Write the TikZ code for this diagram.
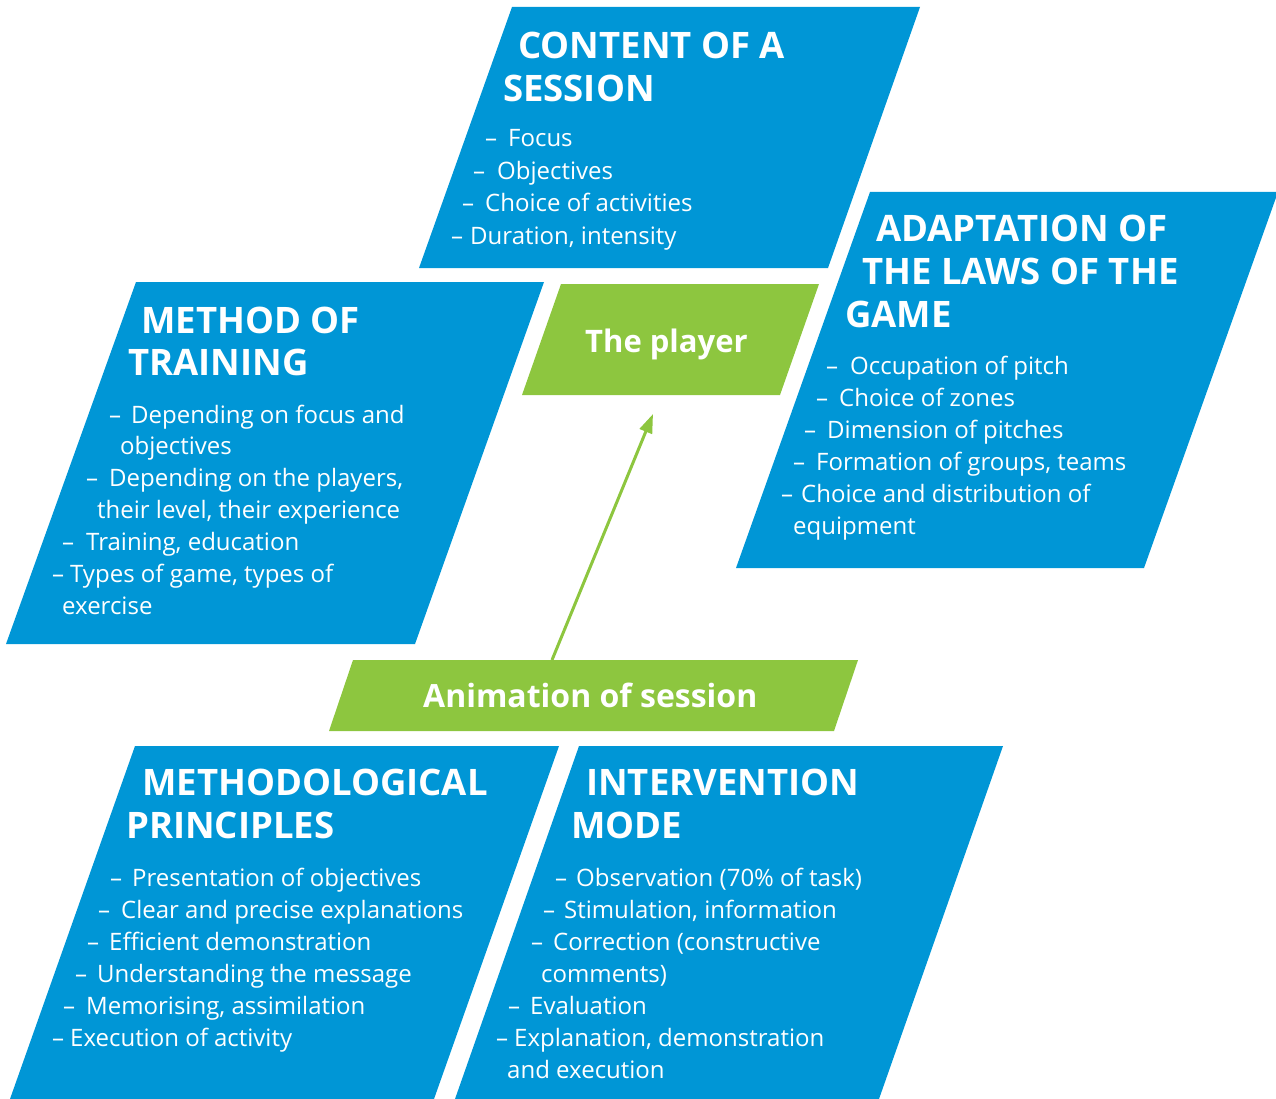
\documentclass[tikz,border=0pt]{standalone}
\usepackage{fontspec}
\setmainfont{Open Sans}
\usetikzlibrary{arrows.meta}
\definecolor{fblue}{RGB}{0,150,214}
\definecolor{fgreen}{RGB}{141,198,63}
\newcommand\dashitem[2]{\makebox[#1pt][l]{–}#2}
\begin{document}
\begin{tikzpicture}[x=1pt,y=-1pt,
  boxtitle/.style={anchor=base west, inner sep=0pt, text=white, font=\bfseries\fontsize{36.5}{36.5}\selectfont},
  item/.style={anchor=base west, inner sep=0pt, text=white, font=\fontsize{24}{24}\selectfont},
  gtitle/.style={anchor=base west, inner sep=0pt, text=white, font=\bfseries\fontsize{31}{31}\selectfont},
  bluebox/.style={fill=fblue},
  greenbox/.style={fill=fgreen},
  link/.style={draw=fgreen, line width=3pt, -{Triangle[length=19pt,width=13pt]}}
]
\useasboundingbox (0,0) rectangle (1276,1099);
\begin{scope}
\clip (0,0) rectangle (1276,1099);
% blue parallelograms
\fill[bluebox] (512,7) -- (920,7) -- (828,268) -- (419,268) -- cycle;
\fill[bluebox] (136,282) -- (544,282) -- (415,644) -- (6,644) -- cycle;
\fill[bluebox] (870,192) -- (1278,192) -- (1144,568) -- (736,568) -- cycle;
\fill[bluebox] (135,746) -- (559,746) -- (434,1099) -- (10,1099) -- cycle;
\fill[bluebox] (579,746) -- (1003,746) -- (879,1099) -- (455,1099) -- cycle;
% green parallelograms
\fill[greenbox] (561,284) -- (819,284) -- (780,395) -- (522,395) -- cycle;
\fill[greenbox] (353,660) -- (858,660) -- (834,731) -- (329,731) -- cycle;
\end{scope}

% connector
\coordinate (arrowfrom) at (552,660);
\coordinate (arrowto) at (653,414);
\draw[link] (arrowfrom) -- (arrowto);

% green labels
\node[gtitle] (player) at (585,352) {The player};
\node[gtitle, font=\bfseries\fontsize{32}{32}\selectfont] (anim) at (423,707) {Animation of session};

% content of a session
\node[boxtitle] (ct1) at (518,59) {CONTENT OF A};
\node[boxtitle] (ct2) at (503,102) {SESSION};
\node[item] (ci1) at (485,147) {\dashitem{23}{Focus}};
\node[item] (ci2) at (473,180) {\dashitem{24}{Objectives}};
\node[item] (ci3) at (462,212) {\dashitem{23}{Choice of activities}};
\node[item] (ci4) at (451,244) {\dashitem{19}{Duration, intensity}};

% method of training
\node[boxtitle] (mt1) at (141,333) {METHOD OF};
\node[boxtitle] (mt2) at (128,375) {TRAINING};
\node[item] (mi1) at (109,423) {\dashitem{22}{Depending on focus and}};
\node[item] (mi2) at (120,454) {objectives};
\node[item] (mi3) at (86,486) {\dashitem{23}{Depending on the players,}};
\node[item] (mi4) at (97,518) {their level, their experience};
\node[item] (mi5) at (62,550) {\dashitem{24}{Training, education}};
\node[item] (mi6) at (52,582) {\dashitem{18}{Types of game, types of}};
\node[item] (mi7) at (62,614) {exercise};

% adaptation of the laws
\node[boxtitle] (at1) at (876,242) {ADAPTATION OF};
\node[boxtitle] (at2) at (862,284) {THE LAWS OF THE};
\node[boxtitle] (at3) at (845,327) {GAME};
\node[item] (ai1) at (826,374) {\dashitem{24}{Occupation of pitch}};
\node[item] (ai2) at (816,406) {\dashitem{23}{Choice of zones}};
\node[item] (ai3) at (804,438) {\dashitem{23}{Dimension of pitches}};
\node[item] (ai4) at (793,470) {\dashitem{23}{Formation of groups, teams}};
\node[item] (ai5) at (781,502) {\dashitem{20}{Choice and distribution of}};
\node[item] (ai6) at (793,534) {equipment};

% methodological principles
\node[boxtitle] (pt1) at (142,795) {METHODOLOGICAL};
\node[boxtitle] (pt2) at (126,838) {PRINCIPLES};
\node[item] (pi1) at (110,886) {\dashitem{22}{Presentation of objectives}};
\node[item] (pi2) at (98,918) {\dashitem{23}{Clear and precise explanations}};
\node[item] (pi3) at (87,950) {\dashitem{22}{Efficient demonstration}};
\node[item] (pi4) at (75,982) {\dashitem{22}{Understanding the message}};
\node[item] (pi5) at (63,1014) {\dashitem{23}{Memorising, assimilation}};
\node[item] (pi6) at (52,1046) {\dashitem{18}{Execution of activity}};

% intervention mode
\node[boxtitle] (it1) at (586,795) {INTERVENTION};
\node[boxtitle] (it2) at (571,838) {MODE};
\node[item] (ii1) at (555,886) {\dashitem{21}{Observation (70\% of task)}};
\node[item] (ii2) at (543,918) {\dashitem{21}{Stimulation, information}};
\node[item] (ii3) at (531,950) {\dashitem{22}{Correction (constructive}};
\node[item] (ii4) at (541,982) {comments)};
\node[item] (ii5) at (508,1014) {\dashitem{22}{Evaluation}};
\node[item] (ii6) at (496,1046) {\dashitem{18}{Explanation, demonstration}};
\node[item] (ii7) at (507,1078) {and execution};
\end{tikzpicture}
\end{document}
